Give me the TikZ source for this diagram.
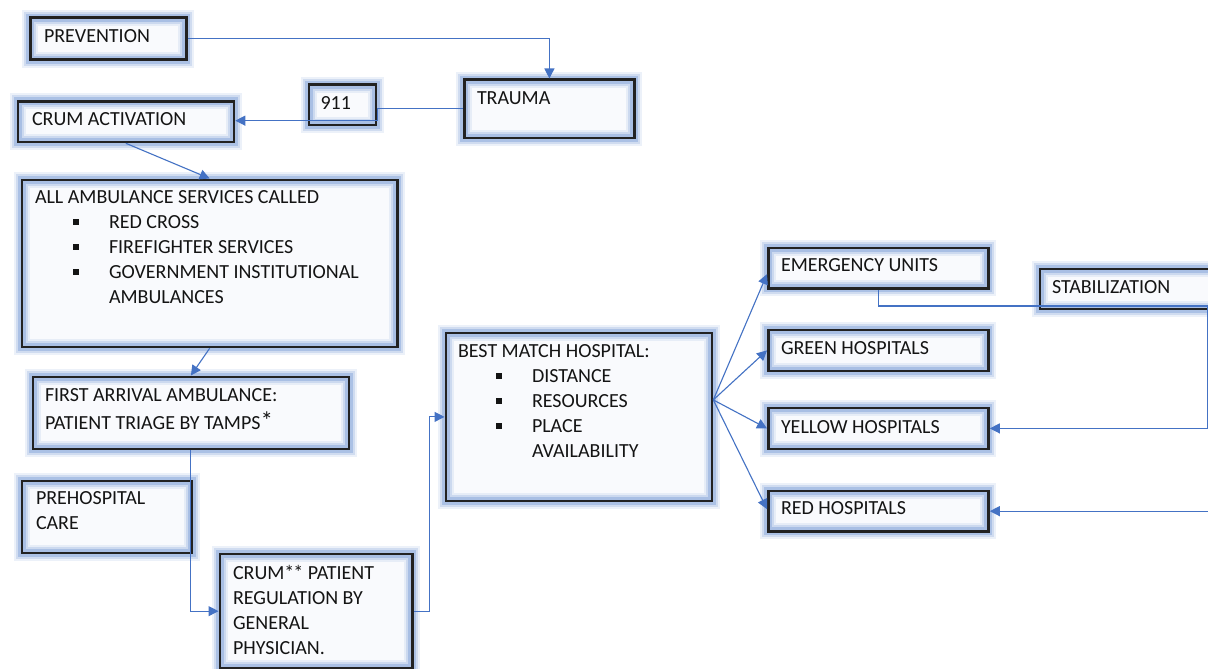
\documentclass[tikz,border=0pt]{standalone}
\usepackage{fontspec}
\setmainfont{Carlito}
\usetikzlibrary{arrows.meta,calc}
\definecolor{connc}{HTML}{4472C4}
\definecolor{glowc}{HTML}{7FA1D8}
\definecolor{edgec}{HTML}{222222}
\definecolor{boxfill}{HTML}{F9FAFD}
\definecolor{ink}{HTML}{141414}
\newcommand\bul{\rule[3.4pt]{6pt}{6pt}}
\newcommand\bitem[1]{\hspace*{38pt}\bul\hspace*{30pt}#1}
\newcommand\bcont[1]{\hspace*{74pt}#1}
\begin{document}
\begin{tikzpicture}[x=1pt,y=-1pt,
  box/.style={rectangle, inner sep=0pt, outer sep=1.4pt, anchor=north west,
    preaction={fill=boxfill},
    preaction={draw=glowc, line width=16pt, opacity=0.14},
    preaction={draw=glowc, line width=12pt, opacity=0.25},
    preaction={draw=glowc, line width=8pt, opacity=0.45},
    draw=edgec, line width=2.8pt},
  txt/.style={anchor=base west, inner sep=0pt, outer sep=0pt, text=ink,
    font=\fontsize{20}{25}\selectfont},
  link/.style={draw=connc, line width=1.1pt},
  arr/.style={link, -{Triangle[length=10pt,width=10pt]}}
]
\useasboundingbox[fill=white] (0,0) rectangle (1208,669);

% boxes
\node[box, minimum width=156pt, minimum height=42pt] (prev) at (29,16.5) {};
\node[box, minimum width=170pt, minimum height=58pt] (trauma) at (463,78.5) {};
\node[box, minimum width=67pt, minimum height=40pt] (n911) at (307.5,83.5) {};
\node[box, minimum width=216pt, minimum height=40.5pt] (crumact) at (16.5,100) {};
\node[box, minimum width=375.5pt, minimum height=167pt] (allamb) at (20.5,178.5) {};
\node[box, minimum width=316pt, minimum height=72pt] (first) at (31.5,375.5) {};
\node[box, minimum width=170pt, minimum height=72pt] (prehosp) at (20.5,479.5) {};
\node[box, minimum width=192.5pt, minimum height=114.5pt] (crumpat) at (218.5,552.5) {};
\node[box, minimum width=266pt, minimum height=168pt] (best) at (444.5,331.5) {};
\node[box, minimum width=220pt, minimum height=40.5pt] (emerg) at (767,246.5) {};
\node[box, minimum width=180pt, minimum height=40pt] (stab) at (1038.5,267.5) {};
\node[box, minimum width=220pt, minimum height=41pt] (green) at (767,328.5) {};
\node[box, minimum width=220pt, minimum height=41pt] (yellow) at (767,406.5) {};
\node[box, minimum width=220pt, minimum height=40.5pt] (red) at (767,489.5) {};

% texts
\node[txt] (prevt) at (44,42.5) {PREVENTION};
\node[txt] (traumat) at (477,104.5) {TRAUMA};
\node[txt] (n911t) at (320.5,109.5) {911};
\node[txt] (crumactt) at (32,125) {CRUM ACTIVATION};
\node[txt] (allambt) at (35,203.5) {\begin{tabular}[t]{@{}l@{}}
ALL AMBULANCE SERVICES CALLED\\
\bitem{RED CROSS}\\
\bitem{FIREFIGHTER SERVICES}\\
\bitem{GOVERNMENT INSTITUTIONAL}\\
\bcont{AMBULANCES}
\end{tabular}};
\node[txt, font=\fontsize{20}{28}\selectfont] (firstt) at (45,401.5) {\begin{tabular}[t]{@{}l@{}}
FIRST ARRIVAL AMBULANCE:\\
PATIENT TRIAGE BY TAMPS{\fontsize{25}{28}\selectfont*}
\end{tabular}};
\node[txt] (prehospt) at (36,504.5) {\begin{tabular}[t]{@{}l@{}}
PREHOSPITAL\\
CARE
\end{tabular}};
\node[txt] (crumpatt) at (233,579) {\begin{tabular}[t]{@{}l@{}}
CRUM*\kern-1pt* PATIENT\\
REGULATION BY\\
GENERAL\\
PHYSICIAN.
\end{tabular}};
\node[txt] (bestt) at (458,357) {\begin{tabular}[t]{@{}l@{}}
BEST MATCH HOSPITAL:\\
\bitem{DISTANCE}\\
\bitem{RESOURCES}\\
\bitem{PLACE}\\
\bcont{AVAILABILITY}
\end{tabular}};
\node[txt] (emergt) at (781,271.5) {EMERGENCY UNITS};
\node[txt] (greent) at (781,354.5) {GREEN HOSPITALS};
\node[txt] (yellowt) at (781,433) {YELLOW HOSPITALS};
\node[txt] (redt) at (781,514.5) {RED HOSPITALS};
\node[txt] (stabt) at (1052,293) {STABILIZATION};

% connectors
\coordinate (fan) at ($(best.east)+(0,-17)$);
\coordinate (rt) at (1207.6,306);
\draw[arr] (prev.east) -| (trauma.north);
\draw[arr] (trauma.west) -- (n911.east |- trauma.west) -- ($(n911.east |- crumact.east)+(0,-1)$) -- ($(crumact.east)+(0,-1)$);
\draw[arr] (crumact.south) -- (allamb.north);
\draw[arr] (allamb.south) -- (first.north);
\draw[arr] (first.south) |- (crumpat.west);
\draw[arr] (crumpat.east) -- ++(16,0) |- (best.west);
\draw[arr] (fan) -- ($(emerg.west)+(0,6)$);
\draw[arr] (fan) -- (green.west);
\draw[arr] (fan) -- (yellow.west);
\draw[arr] (fan) -- ($(red.west)+(0,-2)$);
\draw[arr] (emerg.south) |- (rt) |- (yellow.east);
\coordinate (rr) at (rt |- red.east);
\draw[arr] (rr) -- (red.east);
\end{tikzpicture}
\end{document}
